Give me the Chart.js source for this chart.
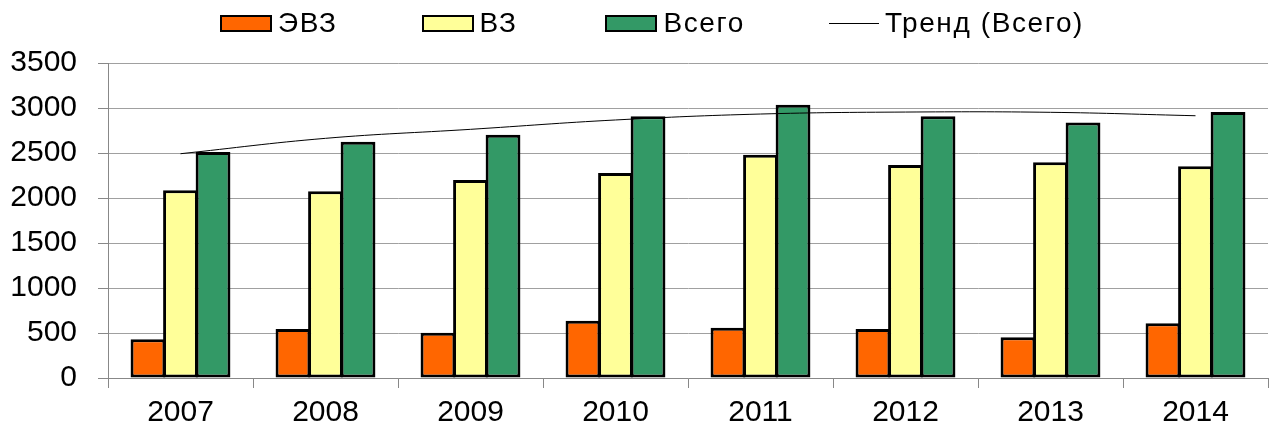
<!DOCTYPE html>
<html>
<head>
<meta charset="utf-8">
<script src="https://cdn.jsdelivr.net/npm/chart.js@4/dist/chart.umd.min.js"></script>
<style>
  html, body { margin: 0; padding: 0; background: #fff; }
  #wrap { position: relative; width: 1272px; height: 428px; }
  #legend { position: absolute; left: 220px; top: 9px; display: flex; align-items: center; font-family: "Liberation Sans", Arial, sans-serif; font-size: 28px; line-height: 28px; letter-spacing: 1.6px; color: #000; }
  .item { display: flex; align-items: center; }
  .box { width: 52px; height: 17px; box-sizing: border-box; border: 2px solid #000; margin-right: 6px; }
  .line { width: 50px; height: 0; border-top: 1px solid #000; margin-right: 6px; }
</style>
</head>
<body>
<div id="wrap">
  <canvas id="c" width="1272" height="428"></canvas>
  <div id="legend"></div>
</div>
<script>
const years = ["2007", "2008", "2009", "2010", "2011", "2012", "2013", "2014"];
const evz = [430, 544, 504, 637, 559, 544, 452, 607];
const vz = [2085, 2074, 2200, 2278, 2481, 2367, 2396, 2352];
const total = [2511, 2626, 2704, 2907, 3037, 2907, 2840, 2955];
const trend = [2492, 2663, 2763, 2867, 2933, 2955, 2952, 2914];
const seriesNames = ["ЭВЗ", "ВЗ", "Всего", "Тренд (Всего)"];

const FONT = "'Liberation Sans', Arial, sans-serif";
Chart.defaults.font.family = FONT;
Chart.defaults.color = "#000";

const barCommon = { borderColor: "#000", borderWidth: 3, borderSkipped: false, categoryPercentage: 0.673, barPercentage: 1.07 };

const chart = new Chart(document.getElementById("c"), {
  type: "bar",
  data: {
    labels: years,
    datasets: [
      Object.assign({ label: seriesNames[0], data: evz, backgroundColor: "#FF6600", order: 1 }, barCommon),
      Object.assign({ label: seriesNames[1], data: vz, backgroundColor: "#FFFF99", order: 1 }, barCommon),
      Object.assign({ label: seriesNames[2], data: total, backgroundColor: "#339966", order: 1 }, barCommon),
      { type: "line", label: seriesNames[3], data: trend, borderColor: "#000", backgroundColor: "#000", borderWidth: 1, pointRadius: 0, tension: 0.4, fill: false, order: 0 }
    ]
  },
  options: {
    responsive: false,
    animation: false,
    layout: { padding: { top: 63, left: 10, right: 4, bottom: 0 } },
    plugins: { legend: { display: false }, tooltip: { enabled: false } },
    scales: {
      x: {
        afterFit: (scale) => { scale.height = 50; },
        grid: { display: true, drawOnChartArea: false, drawTicks: true, tickLength: 10, color: "#888", offset: true },
        border: { display: true, color: "#888", width: 1 },
        ticks: { font: { size: 30, lineHeight: 1.0 }, padding: 10, color: "#000" }
      },
      y: {
        min: 0, max: 3500,
        afterFit: (scale) => { scale.width = 98; },
        ticks: { stepSize: 500, font: { size: 30 }, padding: 21, color: "#000", callback: (v) => String(v) },
        grid: { color: "#a0a0a0", borderDash: [3, 2], tickLength: 10, tickColor: "#888", tickBorderDash: [] },
        border: { display: true, color: "#888", width: 1 }
      }
    }
  }
});

const legend = document.getElementById("legend");
const gaps = [84, 88, 84, 0];
chart.data.datasets.forEach((ds, i) => {
  const item = document.createElement("div");
  item.className = "item";
  item.style.marginRight = gaps[i] + "px";
  const mark = document.createElement("div");
  if (ds.type === "line") {
    mark.className = "line";
  } else {
    mark.className = "box";
    mark.style.background = ds.backgroundColor;
  }
  const txt = document.createElement("span");
  txt.textContent = ds.label;
  item.appendChild(mark);
  item.appendChild(txt);
  legend.appendChild(item);
});
</script>
</body>
</html>
